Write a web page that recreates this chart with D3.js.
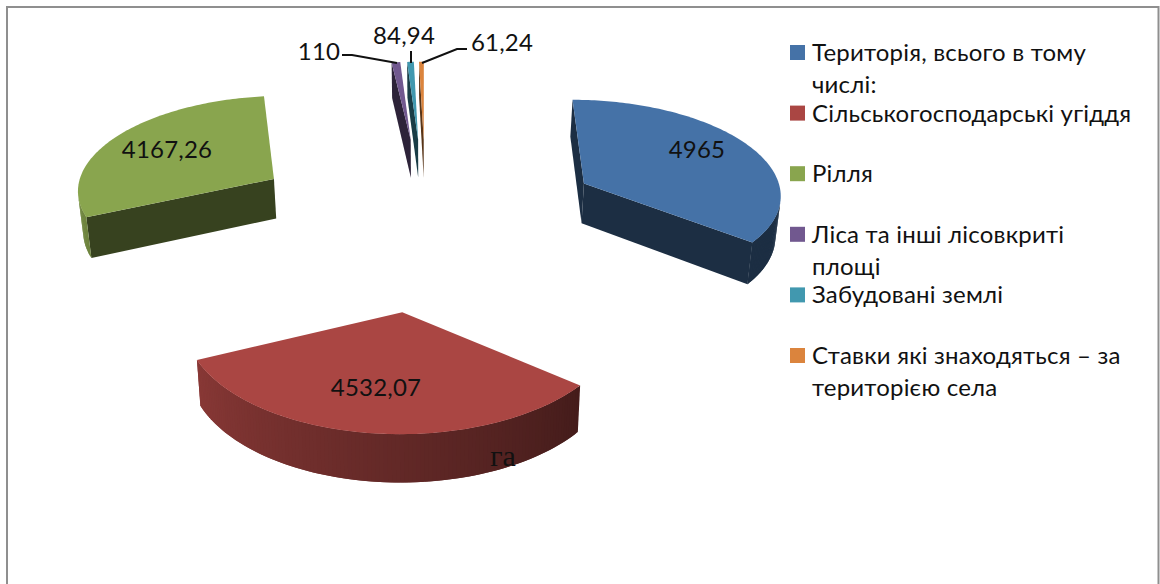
<!DOCTYPE html>
<html>
<head>
<meta charset="utf-8">
<script src="https://cdn.jsdelivr.net/npm/d3@7/dist/d3.min.js"></script>
<style>
  html, body { margin: 0; padding: 0; background: #fff; }
  svg { display: block; }
  text { font-family: Lato, "Noto Sans", sans-serif; fill: #111; }
</style>
</head>
<body>
<svg id="chart" width="1160" height="584"></svg>
<script>
// Land use of the village territory, hectares
const categories = [
  "Територія, всього в тому числі:",
  "Сільськогосподарські угіддя",
  "Рілля",
  "Ліса та інші лісовкриті площі",
  "Забудовані землі",
  "Ставки які знаходяться – за територією села"
];
const values = [4965, 4532.07, 4167.26, 110, 84.94, 61.24];
const sliceColors = ["#4572A7", "#AA4643", "#89A54E", "#71588F", "#4198AF", "#DB843D"];
const legendLines = [
  ["Територія, всього в тому", "числі:"],
  ["Сільськогосподарські угіддя"],
  ["Рілля"],
  ["Ліса та інші лісовкриті", "площі"],
  ["Забудовані землі"],
  ["Ставки які знаходяться – за", "територією села"]
];
const unitLabel = "га";

// Camera of the tilted pie
const view = { cx: 426, cy: 220, rx: 201, ry: 96, persp: 0.08, explode: 0.9, depth: 41, pinch: 0.985 };

const svg = d3.select("#chart");
const toX = d3.scaleLinear().domain([0, 1]).range([0, view.rx]);
const toY = d3.scaleLinear().domain([0, 1]).range([0, -view.ry]);

// Ground-plane point to screen, on the top face or on the base of the slab
function project(gx, gz, lower) {
  const w = 1 + view.persp * gz;
  let x = toX(gx) / w;
  let y = view.cy + toY(gz) / w;
  if (lower) { x *= view.pinch; y += view.depth / w; }
  return [view.cx + x, y];
}

const pie = d3.pie().sort(null).value(d => d);
const arcs = pie(values);
const degrees = d3.scaleLinear().domain([0, 2 * Math.PI]).range([0, 360]);
const rimShade = d3.scaleLinear().domain([128, 245]).range([0.40, 0.80]).clamp(true);
const line = d3.line();

const sliceLayer = svg.append("g");

arcs.forEach((a, i) => {
  const mid = (a.startAngle + a.endAngle) / 2;
  const ox = view.explode * Math.sin(mid);
  const oz = view.explode * Math.cos(mid);
  const steps = Math.max(2, Math.ceil(degrees(a.endAngle - a.startAngle)));
  const angles = d3.range(steps + 1).map(s => a.startAngle + (a.endAngle - a.startAngle) * s / steps);
  const ground = angles.map(t => [ox + Math.sin(t), oz + Math.cos(t), t]);
  const apex = [ox, oz];
  const base = sliceColors[i];
  const shade = f => d3.interpolateRgb("#000", base)(f);

  // Walls, clockwise round the outline; a wall turned away from the viewer is skipped
  const wall = (p, q, fill) => {
    const quad = [
      project(p[0], p[1], false), project(q[0], q[1], false),
      project(q[0], q[1], true), project(p[0], p[1], true)
    ];
    if (d3.polygonArea(quad) <= 0) return;
    sliceLayer.append("path")
      .attr("d", line(quad) + "Z")
      .attr("fill", fill);
  };

  wall(apex, ground[0], shade(0.40));
  wall(ground[steps], apex, shade(0.40));
  // Each rim strip runs under the next one, which keeps the shading free of seams
  d3.range(steps).forEach(s => {
    const midDeg = degrees((angles[s] + angles[s + 1]) / 2);
    wall(ground[s], ground[Math.min(s + 2, steps)], shade(rimShade(midDeg)));
  });

  // Top face
  const outline = [apex, ...ground].map(g => project(g[0], g[1], false));
  sliceLayer.append("path")
    .attr("d", line(outline) + "Z")
    .attr("fill", base);
});

// Values written on the three large slices and beside the thin ones
const valueText = v => String(v).replace(".", ",");
const labelAnchors = [[697, 158], [376, 396], [167, 158], [319, 60], [404, 44], [502, 51]];
svg.append("g").selectAll("text")
  .data(values)
  .join("text")
  .attr("x", (d, i) => labelAnchors[i][0])
  .attr("y", (d, i) => labelAnchors[i][1])
  .attr("text-anchor", "middle")
  .attr("font-size", 24)
  .attr("letter-spacing", 0.2)
  .text(valueText);

// Leader lines of the three thin slices
const leaderPaths = [
  [[342, 55], [352, 55], [397, 63]],
  [[411, 51], [411, 63]],
  [[422, 63], [457, 49], [467, 49]]
];
svg.append("g").selectAll("path")
  .data(leaderPaths)
  .join("path")
  .attr("d", d => line(d))
  .attr("fill", "none")
  .attr("stroke", "#111")
  .attr("stroke-width", 2);

svg.append("text")
  .attr("x", 503).attr("y", 466)
  .attr("text-anchor", "middle")
  .attr("font-size", 30)
  .style("font-family", '"Liberation Serif", serif')
  .text(unitLabel);

// Legend
const legendY = d3.scaleLinear().domain([0, 5]).range([45, 348]);
const legend = svg.append("g").selectAll("g")
  .data(categories)
  .join("g")
  .attr("aria-label", d => d);
legend.append("rect")
  .attr("x", 790).attr("width", 15).attr("height", 15)
  .attr("y", (d, i) => legendY(i))
  .attr("fill", (d, i) => sliceColors[i]);
legend.each(function(d, i) {
  d3.select(this).selectAll("text")
    .data(legendLines[i])
    .join("text")
    .attr("x", 812)
    .attr("y", (t, j) => legendY(i) + 16 + j * 32)
    .attr("font-size", 24)
    .attr("letter-spacing", 0.2)
    .text(t => t);
});

// Chart frame, open at the bottom where the page ends
svg.append("path")
  .attr("d", line([[7, 584], [7, 7], [1158.5, 7], [1158.5, 584]]))
  .attr("fill", "none")
  .attr("stroke", "#8f8f8f")
  .attr("stroke-width", 2);
</script>
</body>
</html>
